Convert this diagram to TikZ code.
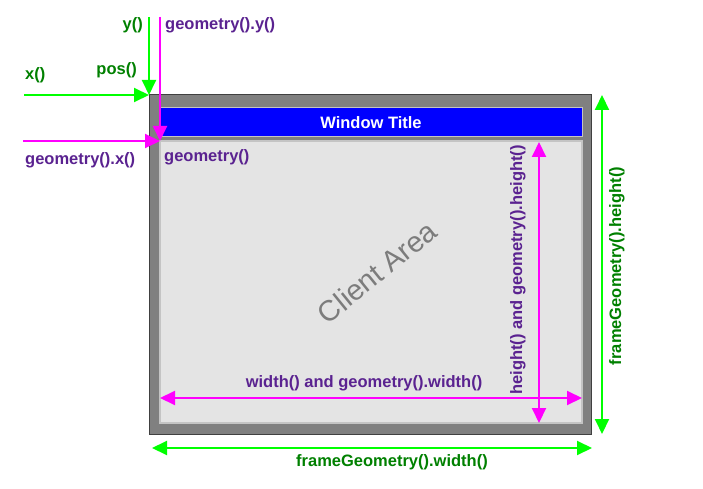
\documentclass[tikz,border=0pt]{standalone}
\usepackage{fontspec}
\setmainfont{Liberation Sans}
\usetikzlibrary{arrows.meta}
\definecolor{framegray}{HTML}{808080}
\definecolor{frameedge}{HTML}{404040}
\definecolor{clientfill}{HTML}{E4E4E4}
\definecolor{clientedge}{HTML}{C4C4C4}
\definecolor{titleblue}{HTML}{0000FF}
\definecolor{brightgreen}{HTML}{00FF00}
\definecolor{darkgreen}{HTML}{008000}
\definecolor{purpletext}{HTML}{5A2290}
\definecolor{magentaline}{HTML}{FF00FF}
\definecolor{clienttext}{HTML}{7C7C7C}
\tikzset{
  bigtri/.tip={Triangle[length=15pt,width=14pt]},
  lbl/.style={inner sep=0pt, font=\bfseries\fontsize{16.5}{18}\selectfont},
  greenlbl/.style={lbl, text=darkgreen},
  purplelbl/.style={lbl, text=purpletext},
  greenarrow/.style={draw=brightgreen, line width=2pt, -{bigtri}},
  greendouble/.style={draw=brightgreen, line width=2pt, {bigtri}-{bigtri}},
  magarrow/.style={draw=magentaline, line width=2pt, -{bigtri}},
  magdouble/.style={draw=magentaline, line width=2pt, {bigtri}-{bigtri}},
}
\begin{document}
\begin{tikzpicture}[x=1pt,y=-1pt]
\useasboundingbox (0,0) rectangle (703,489);
% window frame
\node[draw=frameedge, line width=1pt, fill=framegray, minimum width=442pt, minimum height=339pt, inner sep=0pt] (frame) at (370,264.5) {};
\node[fill=titleblue, draw=clientedge, line width=1pt, minimum width=422pt, minimum height=29pt, inner sep=0pt, text=white, font=\bfseries\fontsize{16.5}{18}\selectfont] (title) at (371,122.5) {Window Title};
\node[fill=clientfill, draw=clientedge, line width=1.5pt, minimum width=422pt, minimum height=282pt, inner sep=0pt] (client) at (371,282) {};
\node[inner sep=0pt, text=clienttext, rotate=39, font=\fontsize{29}{32}\selectfont] (ca) at (377,272) {Client Area};

% coordinates
\coordinate (ytop) at (149,17);
\coordinate (pos) at (149,95);
\coordinate (xleft) at (24,95);
\coordinate (gytop) at (160,17);
\coordinate (gpos) at (160,141);
\coordinate (gxleft) at (23,141);
\coordinate (wl) at (160,398);
\coordinate (wr) at (582,398);
\coordinate (ht) at (539,142);
\coordinate (hb) at (539,423);
\coordinate (fht) at (602,95);
\coordinate (fhb) at (602,434);
\coordinate (fwl) at (152,448);
\coordinate (fwr) at (592,448);

% arrows
\draw[greenarrow] (ytop) -- (pos);
\draw[greenarrow] (xleft) -- (pos);
\draw[magarrow] (gytop) -- (gpos);
\draw[magarrow] (gxleft) -- (gpos);
\draw[magdouble] (wl) -- (wr);
\draw[magdouble] (ht) -- (hb);
\draw[greendouble] (fht) -- (fhb);
\draw[greendouble] (fwl) -- (fwr);

% labels
\node[greenlbl, anchor=east] (ylbl) at (143,25) {y()};
\node[purplelbl, anchor=west] (gylbl) at (165,25) {geometry().y()};
\node[greenlbl, anchor=east] (poslbl) at (137,70) {pos()};
\node[greenlbl, anchor=west] (xlbl) at (25,75) {x()};
\node[purplelbl, anchor=west] (gxlbl) at (25,160) {geometry().x()};
\node[purplelbl, anchor=west] (glbl) at (164,157) {geometry()};
\node[purplelbl] (wlbl) at (364,383) {width() and geometry().width()};
\node[purplelbl, rotate=90] (hlbl) at (518,270) {height() and geometry().height()};
\node[greenlbl, rotate=90] (fhlbl) at (617,266) {frameGeometry().height()};
\node[greenlbl] (fwlbl) at (392,462) {frameGeometry().width()};
\end{tikzpicture}
\end{document}
